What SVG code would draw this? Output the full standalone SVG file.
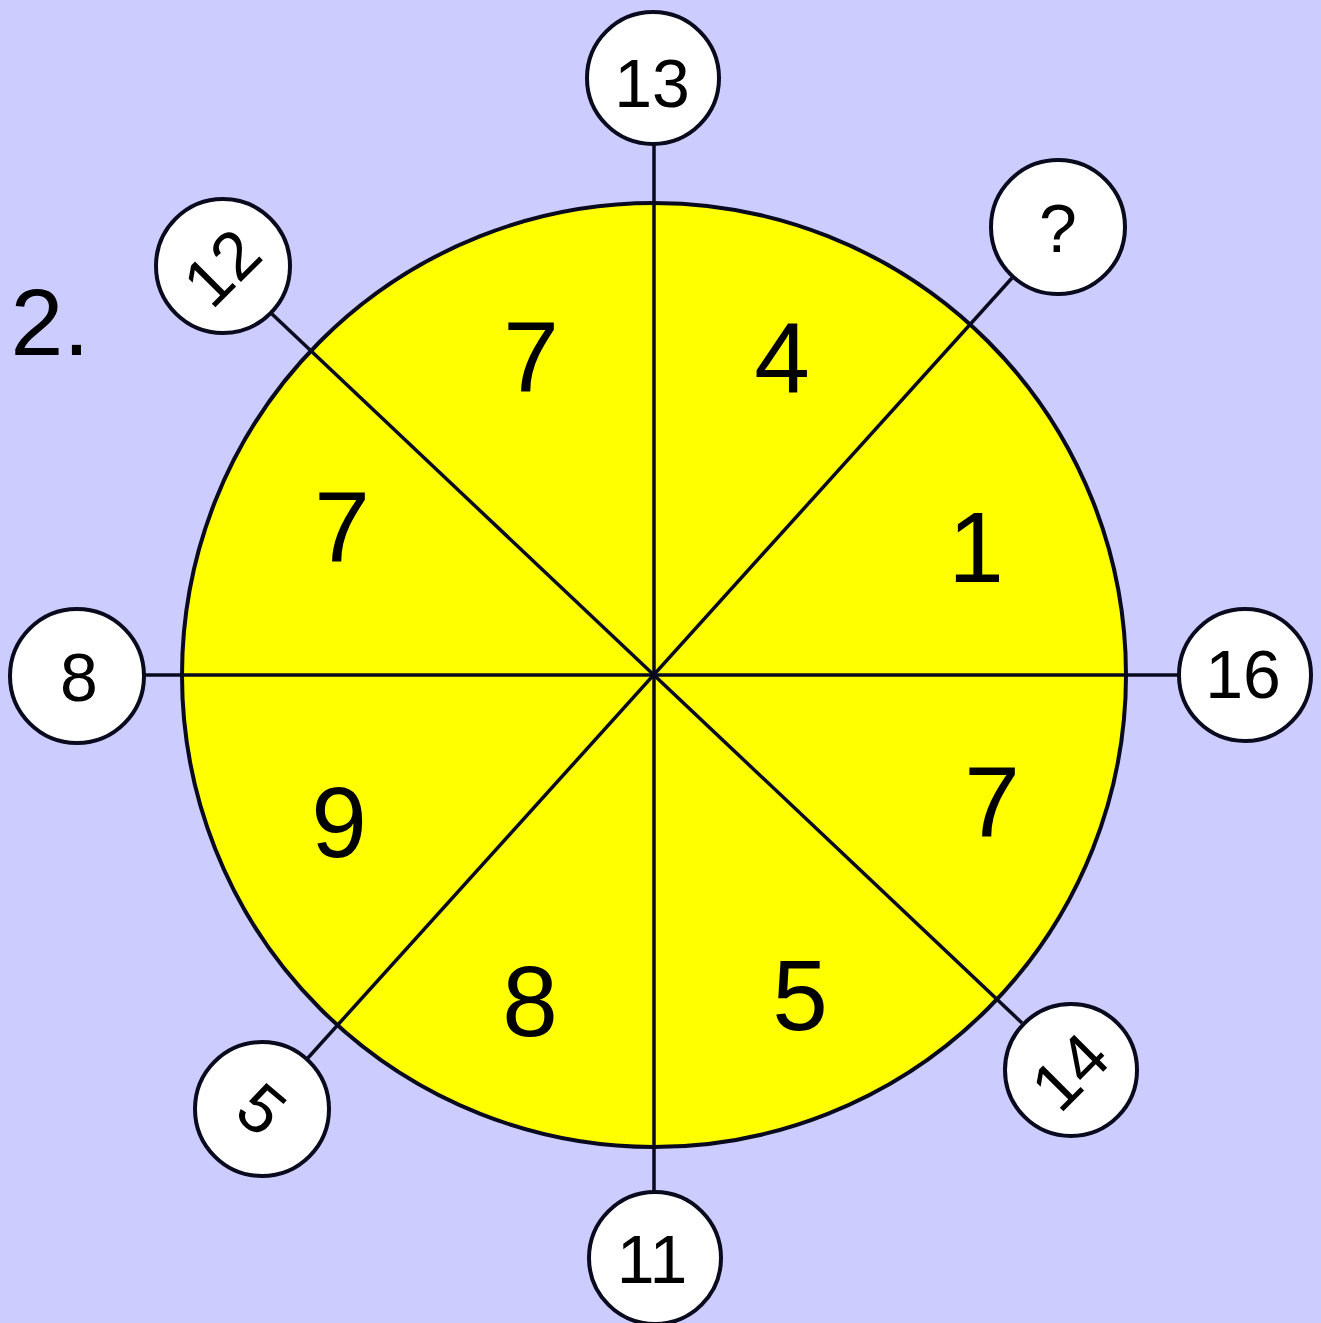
<svg xmlns="http://www.w3.org/2000/svg" width="1321" height="1323" viewBox="0 0 1321 1323">
<style>
.ln{stroke:#0a0a1e;stroke-width:3.5;fill:none}
.node circle{fill:#ffffff;stroke:#0a0a1e;stroke-width:4}
.t{font-family:"Liberation Sans",Arial,sans-serif;fill:#000000;text-anchor:middle}
.s{font-size:68px}
.b{font-size:100px}
</style>
<rect x="0" y="0" width="1321" height="1323" fill="#ccccff"/>
<g id="wheel">
<circle cx="654" cy="675" r="472" fill="#ffff00" stroke="#0a0a1e" stroke-width="4"/>
</g>
<g id="connectors">
<line class="ln" x1="654" y1="145" x2="654" y2="1192"/>
<line class="ln" x1="145" y1="675" x2="1178" y2="675"/>
<line class="ln" x1="272" y1="314" x2="1022" y2="1023"/>
<line class="ln" x1="1012" y1="278" x2="307" y2="1059"/>
</g>
<g id="sectors">
<text class="t b" x="531" y="392">7</text>
<text class="t b" x="782" y="393">4</text>
<text class="t b" x="976" y="582">1</text>
<text class="t b" x="342" y="562">7</text>
<text class="t b" x="339" y="857">9</text>
<text class="t b" x="992" y="837">7</text>
<text class="t b" x="530" y="1036">8</text>
<text class="t b" x="800" y="1030">5</text>
</g>
<g id="n13" class="node"><circle cx="653" cy="78" r="66"/><text class="t s" x="652" y="107">13</text></g>
<g id="nq" class="node"><circle cx="1058" cy="227" r="67"/><text class="t s" x="1058" y="252">?</text></g>
<g id="n16" class="node"><circle cx="1245" cy="675" r="66"/><text class="t s" x="1243" y="698">16</text></g>
<g id="n14" class="node"><circle cx="1071" cy="1070" r="66"/><text class="t s" transform="translate(1071,1070) rotate(-45)" x="-2" y="24">14</text></g>
<g id="n11" class="node"><circle cx="655" cy="1258" r="66"/><text class="t s" x="652" y="1283">11</text></g>
<g id="n5" class="node"><circle cx="262" cy="1109" r="67"/><text class="t s" transform="translate(262,1109) rotate(40)" x="0" y="24">5</text></g>
<g id="n8" class="node"><circle cx="77" cy="676" r="67"/><text class="t s" x="79" y="701">8</text></g>
<g id="n12" class="node"><circle cx="223" cy="266" r="67"/><text class="t s" transform="translate(223,266) rotate(-45)" x="-2" y="24">12</text></g>
<text class="t" x="50" y="355" style="font-size:95px">2.</text>
</svg>
